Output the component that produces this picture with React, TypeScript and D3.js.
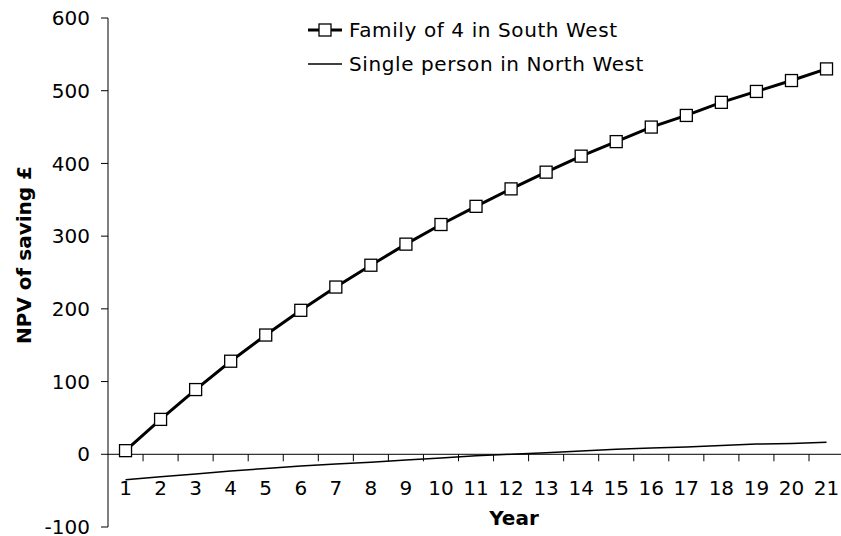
import React from "react";
import * as d3 from "d3";

const years: number[] = d3.range(1, 22);
const familySouthWest: number[] = [5, 48, 89, 128, 164, 198, 230, 260, 289, 316, 341, 365, 388, 410, 430, 450, 466, 484, 499, 514, 530];
const singleNorthWest: number[] = [-35, -31, -27, -23, -19.5, -16, -13.5, -11, -8, -5, -2, 0, 2, 4.5, 7, 8.5, 10, 12, 14, 15, 16.5];
const yTicks: number[] = [-100, 0, 100, 200, 300, 400, 500, 600];
const seriesNames: string[] = ["Family of 4 in South West", "Single person in North West"];

const W = 841;
const H = 536;
const FONT = "Verdana, 'DejaVu Sans', sans-serif";

export default function App() {
  const x0 = 108;
  const band = 35.05;
  const x = d3.scaleBand<number>().domain(years).range([x0, x0 + band * years.length]).padding(0);
  const cx = (yr: number) => (x(yr) as number) + x.bandwidth() / 2;
  const y = d3.scaleLinear().domain([-100, 600]).range([527, 18]);

  const line = d3.line<number>().x((_, i) => cx(years[i])).y((v) => y(v));

  const boundaries = years.map((yr) => (x(yr) as number) + x.bandwidth());

  return (
    <div style={{ position: "absolute", left: 0, top: 0, width: W, height: H, overflow: "hidden" }}>
      <svg width={W} height={H} style={{ display: "block", background: "#fff" }} fontFamily={FONT}>
        {/* Y axis */}
        <line x1={x0} x2={x0} y1={y(600)} y2={y(-100)} stroke="#000" strokeWidth={1} />
        {yTicks.map((t) => (
          <g key={t}>
            <line x1={x0 - 7} x2={x0} y1={y(t)} y2={y(t)} stroke="#000" strokeWidth={1} />
            <text x={x0 - 18} y={y(t)} dy="0.36em" textAnchor="end" fontSize={20} fill="#000">
              {t}
            </text>
          </g>
        ))}
        {/* X axis along zero */}
        <line x1={x0} x2={x0 + band * years.length} y1={y(0)} y2={y(0)} stroke="#000" strokeWidth={1} />
        {boundaries.map((b, i) => (
          <line key={i} x1={b} x2={b} y1={y(0)} y2={y(0) + 7} stroke="#000" strokeWidth={1} />
        ))}
        {years.map((yr) => (
          <text key={yr} x={cx(yr)} y={495} textAnchor="middle" fontSize={20} fill="#000">
            {yr}
          </text>
        ))}
        <text x={514} y={525} textAnchor="middle" fontSize={20} fontWeight="bold" fill="#000">
          Year
        </text>
        <text
          transform={`translate(31, 255) rotate(-90)`}
          textAnchor="middle"
          fontSize={20}
          fontWeight="bold"
          fill="#000"
        >
          NPV of saving £
        </text>

        {/* Series */}
        <path d={line(singleNorthWest) || ""} fill="none" stroke="#000" strokeWidth={1.5} />
        <path d={line(familySouthWest) || ""} fill="none" stroke="#000" strokeWidth={3} />
        {familySouthWest.map((v, i) => (
          <rect
            key={i}
            x={cx(years[i]) - 6}
            y={y(v) - 6}
            width={12}
            height={12}
            fill="#fff"
            stroke="#000"
            strokeWidth={1.3}
          />
        ))}

        {/* Legend */}
        <g>
          <line x1={308} x2={342} y1={30} y2={30} stroke="#000" strokeWidth={3} />
          <rect x={319} y={24} width={12} height={12} fill="#fff" stroke="#000" strokeWidth={1.3} />
          <text x={349} y={37} fontSize={20} letterSpacing={0.6} fill="#000">
            {seriesNames[0]}
          </text>
          <line x1={308} x2={342} y1={64} y2={64} stroke="#000" strokeWidth={1.5} />
          <text x={349} y={71} fontSize={20} letterSpacing={0.6} fill="#000">
            {seriesNames[1]}
          </text>
        </g>
      </svg>
    </div>
  );
}
